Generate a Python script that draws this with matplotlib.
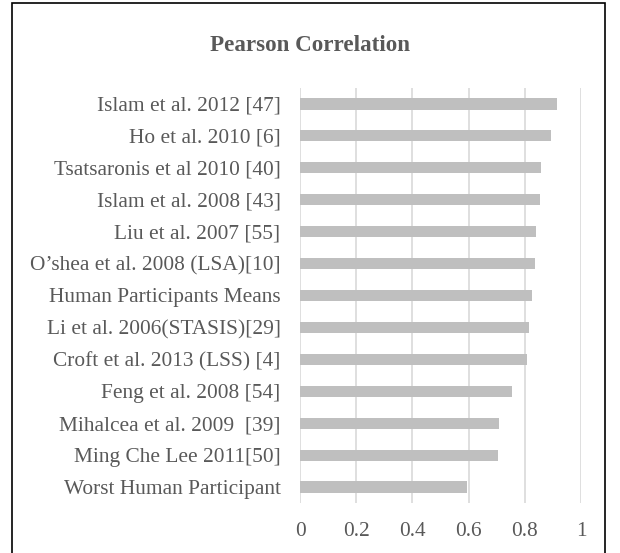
import matplotlib
matplotlib.use("Agg")
import matplotlib.pyplot as plt
from matplotlib.patches import Rectangle

# categories listed top to bottom
labels = [
    "Islam et al. 2012 [47]",
    "Ho et al. 2010 [6]",
    "Tsatsaronis et al 2010 [40]",
    "Islam et al. 2008 [43]",
    "Liu et al. 2007 [55]",
    "O\u2019shea et al. 2008 (LSA)[10]",
    "Human Participants Means",
    "Li et al. 2006(STASIS)[29]",
    "Croft et al. 2013 (LSS) [4]",
    "Feng et al. 2008 [54]",
    "Mihalcea et al. 2009  [39]",
    "Ming Che Lee 2011[50]",
    "Worst Human Participant",
]
values = [0.914, 0.895, 0.856, 0.853, 0.841, 0.838, 0.825, 0.816, 0.807, 0.756, 0.708, 0.705, 0.594]
xticks = [0, 0.2, 0.4, 0.6, 0.8, 1]
xticklabels = ["0", "0.2", "0.4", "0.6", "0.8", "1"]

plt.rcParams['font.family'] = ['Liberation Serif', 'DejaVu Serif']
grey_txt = '#595959'

fig = plt.figure(figsize=(6.2, 5.53), dpi=100)
ax = fig.add_axes([0.4839, 0.0904, 0.4532, 0.7505])

pos = list(range(len(labels)))[::-1]
ax.barh(pos, values, height=0.35, color='#bfbfbf', zorder=3)

ax.set_xlim(0, 1)
ax.set_ylim(-0.5, len(labels) - 0.5)
ax.set_xticks(xticks)
ax.set_xticklabels(xticklabels)
ax.set_yticks(pos)
ax.set_yticklabels(labels)
ax.tick_params(axis='both', length=0, labelsize=15.4, colors=grey_txt)
ax.tick_params(axis='y', pad=14)
ax.tick_params(axis='x', pad=14)
ax.grid(axis='x', color='#d9d9d9', linewidth=1.2, zorder=0)
for s in ax.spines.values():
    s.set_visible(False)

fig.text(0.5, 0.9186, "Pearson Correlation", ha='center', va='center',
         fontsize=16.6, fontweight='bold', color=grey_txt)

# chart border
fig.patches.append(Rectangle((12/620, -0.05), (605-12)/620, 1.05 - 3/553,
                             transform=fig.transFigure, fill=False,
                             edgecolor='black', linewidth=1.2))

fig.savefig("out.png", dpi=100)
